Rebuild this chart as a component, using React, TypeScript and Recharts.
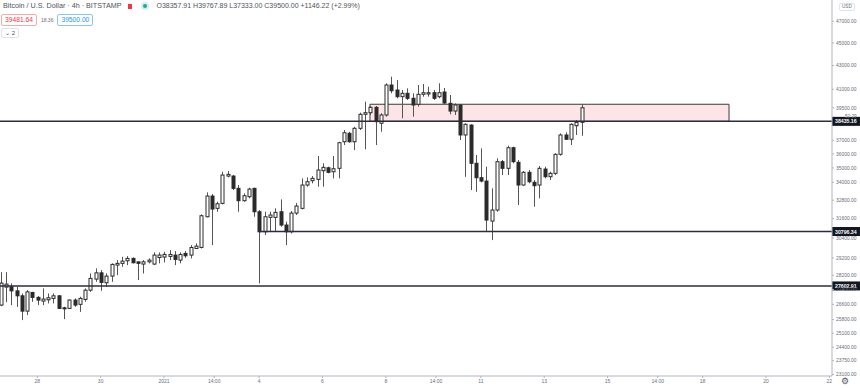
import { Bar, ComposedChart, ReferenceArea, ReferenceLine, XAxis, YAxis } from 'recharts';

// BTC/USD 4h candles, index 0 = 28 Dec 00:00 (one step = 4 hours)
const firstCandle = -7;

const opens = [
  26560, 27540, 27555, 27330, 27060, 26240, 27245, 26975, 26775, 26845, 26920, 27060, 26415, 26385, 26830, 26600,
  26865, 27370, 27985, 28340, 27780, 28155, 28785, 28885, 29035, 29175, 28975, 28845, 28975, 28845, 29230, 29255,
  29290, 29370, 29075, 29470, 29370, 29765, 29825, 31725, 33075, 32265, 32590, 34430, 34430, 33590, 32765, 33030,
  33590, 32045, 30780, 31685, 31685, 32045, 31200, 30780, 31960, 32265, 33815, 34110, 34200, 34800, 35010, 34730,
  34970, 36890, 37520, 36890, 37900, 38985, 39110, 39535, 38290, 38930, 41350, 40935, 40390, 40665, 40260, 39775,
  40585, 40610, 40715, 40390, 40770, 39855, 39240, 39720, 37395, 38150, 35325, 34315, 34085, 31450, 32155, 35440,
  34970, 36450, 35395, 33815, 34690, 34000, 33815, 34920, 34385, 34620, 35970, 37395, 37075, 38100, 38357.91,
];
const highs = [
  28380, 28380, 27745, 27555, 27190, 27370, 27275, 27045, 27465, 27190, 27190, 27100, 26470, 26865, 26920, 27010,
  27465, 28305, 28595, 28495, 28305, 28885, 29075, 29270, 29310, 29235, 28975, 29075, 29175, 29530, 29530, 29565,
  29665, 29605, 29530, 29605, 29967, 30070, 31880, 33320, 33205, 32700, 34730, 34780, 34500, 33815, 33250, 33630,
  33630, 32155, 32045, 32045, 32265, 32855, 31410, 32090, 32610, 34270, 34340, 34430, 35850, 35325, 35085, 35850,
  36890, 37770, 37640, 38020, 39110, 39985, 39640, 39640, 39065, 41490, 42050, 41765, 40935, 41075, 40665, 41350,
  41435, 41210, 40935, 41490, 41100, 40525, 39855, 39775, 38285, 38205, 35920, 36400, 35085, 33590, 35680, 35560,
  36600, 36525, 35560, 34780, 34850, 34155, 35135, 35085, 34730, 36040, 37520, 37595, 38285, 38540, 39767.89,
];
const lows = [
  26505, 26720, 26560, 26470, 25770, 26030, 26740, 26560, 26560, 26650, 26650, 26350, 25820, 26350, 26470, 26200,
  26740, 27275, 27835, 27330, 27555, 27835, 28210, 28690, 28785, 28885, 27930, 28305, 28885, 28785, 28885, 28940,
  29075, 28785, 28885, 29210, 29175, 29725, 29765, 31685, 29967, 32045, 32525, 34340, 33475, 32045, 32700, 32920,
  31725, 27745, 30575, 30780, 30780, 31095, 29967, 30680, 31835, 32200, 33700, 33930, 33700, 33700, 34620, 34270,
  34270, 36650, 36820, 36280, 37770, 36330, 38930, 36650, 37640, 38800, 40665, 40260, 38670, 40120, 38800, 39590,
  40390, 40390, 40120, 40260, 39800, 38985, 38930, 37020, 34380, 33475, 33360, 33995, 30780, 30270, 32045, 34500,
  34500, 35325, 32480, 33770, 33930, 32370, 32920, 34270, 34155, 34500, 35870, 37020, 36650, 37395, 37333,
];
const closes = [
  27760, 27705, 27330, 27060, 26240, 27275, 26975, 26830, 26885, 26955, 27060, 26385, 26365, 26830, 26560, 26920,
  27370, 28025, 28340, 27800, 28155, 28825, 28885, 29015, 29175, 28920, 28885, 28975, 29075, 29370, 29370, 29410,
  29410, 29115, 29410, 29330, 29825, 29905, 31790, 33075, 32220, 32565, 34500, 34550, 33590, 32765, 33095, 33540,
  32045, 30780, 31725, 31835, 32005, 31200, 30780, 31960, 32415, 33815, 34040, 34270, 34850, 35040, 34690, 34940,
  36820, 37565, 36890, 37900, 38985, 39110, 39535, 38410, 38930, 41350, 40875, 40390, 40665, 40260, 39720, 40585,
  40715, 40715, 40260, 40715, 39880, 39240, 39720, 37395, 38205, 35325, 34315, 34085, 31515, 32155, 35440, 34970,
  36450, 35440, 33815, 34690, 34040, 33770, 34970, 34385, 34620, 35970, 37395, 37075, 38205, 38358, 39500,
];

const xTickPositions = [0, 12, 24, 33.5, 42, 54, 66, 75.5, 84, 96, 108, 117.5, 126, 138, 150];
const xTickLabels = ['28', '30', '2021', '14:00', '4', '6', '8', '14:00', '11', '13', '15', '14:00', '18', '20', '22'];

const yTicks = [
  47000, 45000, 43000, 41000, 39500, 37000, 36000, 35000, 34000, 32800, 31600, 30400, 29200, 28200, 27400,
  26600, 25800, 25100, 24400, 23750, 23100,
];

const levels = [38435.16, 30796.34, 27602.91];
const level2Start = 42;
const zone = { from: 63, to: 131, bottom: 38435.16, top: 39780 };

const data = opens.map((open, i) => ({
  t: firstCandle + i,
  open,
  high: highs[i],
  low: lows[i],
  close: closes[i],
}));

const CHART_W = 860;
const CHART_H = 388;
const AXIS_GREY = '#b2b5be';
const TEXT_GREY = '#6a6d78';
const FONT = '"Liberation Sans", Arial, sans-serif';

function Candle(props: any) {
  const { x, y, width, height, payload } = props;
  const { open, close, high, low } = payload;
  const span = Math.log(high) - Math.log(low) || 1;
  const toY = (v: number) => y + (height * (Math.log(high) - Math.log(v))) / span;
  const top = toY(Math.max(open, close));
  const bottom = toY(Math.min(open, close));
  const up = close >= open;
  const cx = Math.round(x + width / 2) + 0.5;
  return (
    <g>
      <line x1={cx} x2={cx} y1={y} y2={y + height} stroke="#555" strokeWidth={1} />
      <rect
        x={cx - 1.5}
        y={top}
        width={3}
        height={Math.max(bottom - top, 1)}
        fill={up ? '#ffffff' : '#2a2a2a'}
        stroke="#2a2a2a"
        strokeWidth={1}
      />
    </g>
  );
}

function PriceTag({ viewBox, value }: any) {
  if (!viewBox) return null;
  const right = viewBox.x + viewBox.width;
  return (
    <g>
      <rect x={right} y={viewBox.y - 4.5} width={28} height={9} fill="#131722" />
      <text x={right + 3} y={viewBox.y + 2} fill="#ffffff" fontSize={5.2} fontFamily={FONT} fontWeight={700}>
        {value}
      </text>
    </g>
  );
}

export default function App() {
  return (
    <div style={{ position: 'absolute', left: 0, top: 0, width: CHART_W, height: CHART_H, background: '#fff', fontFamily: FONT }}>
      <ComposedChart width={CHART_W} height={CHART_H} data={data} margin={{ top: 0, right: 0, left: 0, bottom: 0 }}>
        <XAxis
          dataKey="t"
          type="number"
          domain={[-7.06, 150.5]}
          allowDataOverflow
          ticks={xTickPositions}
          interval={0}
          tickFormatter={(v: number) => xTickLabels[xTickPositions.indexOf(v)]}
          height={12}
          stroke={AXIS_GREY}
          tickSize={2}
          tickMargin={1}
          tick={{ fontSize: 5, fill: TEXT_GREY, fontFamily: FONT }}
        />
        <YAxis
          orientation="right"
          scale="log"
          domain={[23030, 49060]}
          allowDataOverflow
          ticks={yTicks}
          interval={0}
          tickFormatter={(v: number) => v.toFixed(2)}
          width={28}
          stroke={AXIS_GREY}
          tickSize={2}
          tickMargin={2}
          tick={{ fontSize: 4.9, fill: TEXT_GREY, fontFamily: FONT, textAnchor: 'start' }}
        />
        <Bar
          dataKey={(d: any) => [d.low, d.high]}
          barSize={4}
          shape={Candle}
          isAnimationActive={false}
        />
        <ReferenceArea
          x1={zone.from}
          x2={zone.to}
          y1={zone.bottom}
          y2={zone.top}
          fill="#f23645"
          fillOpacity={0.13}
          stroke="#3a3a3a"
          strokeWidth={1}
        />
        <ReferenceLine
          y={levels[0]}
          stroke="#2a2e39"
          strokeWidth={1.5}
          label={<PriceTag value={levels[0].toFixed(2)} />}
        />
        <ReferenceLine
          segment={[
            { x: level2Start, y: levels[1] },
            { x: 150.5, y: levels[1] },
          ]}
          stroke="#2a2e39"
          strokeWidth={1.5}
          label={<PriceTag value={levels[1].toFixed(2)} />}
        />
        <ReferenceLine
          y={levels[2]}
          stroke="#2a2e39"
          strokeWidth={1.5}
          label={<PriceTag value={levels[2].toFixed(2)} />}
        />
      </ComposedChart>

      {/* header overlay */}
      <div style={{ position: 'absolute', left: 3, top: 1, fontSize: 7.2, color: '#50535e', whiteSpace: 'nowrap', display: 'flex', alignItems: 'center', lineHeight: '10px' }}>
        <span>Bitcoin / U.S. Dollar · 4h · BITSTAMP</span>
        <span style={{ display: 'inline-block', width: 4, height: 5, background: '#f23645', marginLeft: 6 }} />
        <span style={{ display: 'inline-block', width: 4, height: 4, borderRadius: 3, background: '#26a69a', boxShadow: '0 0 0 2px #d3efec', marginLeft: 11 }} />
        <span style={{ marginLeft: 10, fontSize: 7 }}>
          O38357.91 H39767.89 L37333.00 C39500.00 +1146.22 (+2.99%)
        </span>
      </div>
      <div style={{ position: 'absolute', left: 1, top: 14, fontSize: 6.7, whiteSpace: 'nowrap', display: 'flex', alignItems: 'center', lineHeight: '8px' }}>
        <span style={{ border: '1px solid #f7a9ae', color: '#f23645', borderRadius: 2, padding: '1px 3px' }}>39481.64</span>
        <span style={{ color: TEXT_GREY, fontSize: 5, margin: '0 4px' }}>18.36</span>
        <span style={{ border: '1px solid #8fc3f7', color: '#2196f3', borderRadius: 2, padding: '1px 3px' }}>39500.00</span>
      </div>
      <div style={{ position: 'absolute', left: 1, top: 28, fontSize: 6, color: '#50535e', border: '1px solid #e0e3eb', borderRadius: 2, padding: '0 3px', lineHeight: '8px' }}>
        ⌄ 2
      </div>
      <div style={{ position: 'absolute', left: 839, top: 3, fontSize: 4.6, color: TEXT_GREY, border: '1px solid #e0e3eb', borderRadius: 2, padding: '0 2px', lineHeight: '6px', background: '#fff' }}>
        USD
      </div>
      <div style={{ position: 'absolute', left: 845, top: 114, fontSize: 4.6, color: TEXT_GREY }}>52:29</div>
      <div style={{ position: 'absolute', left: 841, top: 376, fontSize: 9, color: '#50535e', lineHeight: '11px' }}>⚙</div>
    </div>
  );
}
